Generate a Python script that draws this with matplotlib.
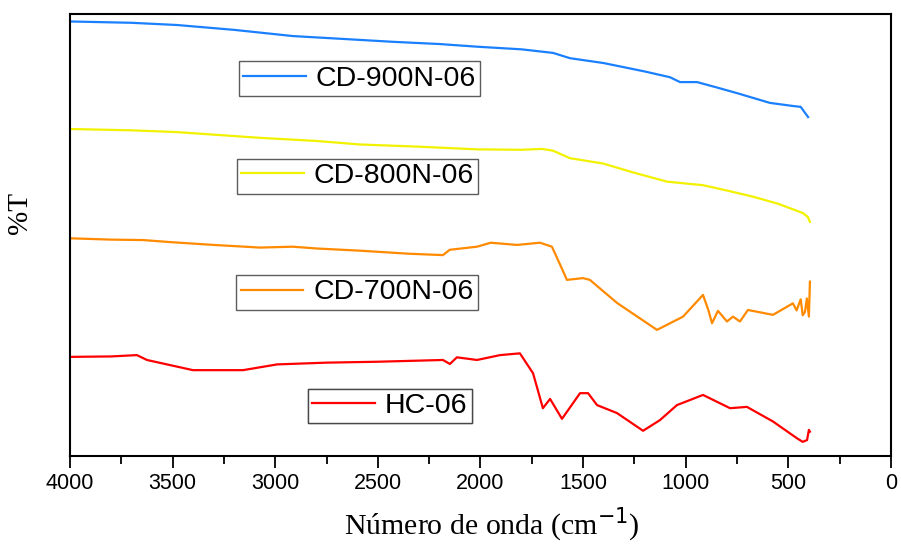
import matplotlib.pyplot as plt
from matplotlib.lines import Line2D
from matplotlib.ticker import MultipleLocator

# FTIR spectra, %T in arbitrary offset units (0-100 = axis height)
wn_900 = [4000, 3700, 3479, 3200, 2914, 2650, 2426, 2200, 2017, 1800, 1647, 1564, 1400, 1200,
          1077, 1028, 945, 850, 750, 590, 478, 440, 404]
t_900 = [98.2, 97.9, 97.4, 96.3, 94.9, 94.2, 93.6, 93.1, 92.5, 91.9, 91.1, 89.9, 88.8, 86.9,
         85.6, 84.5, 84.5, 83.3, 82.0, 79.8, 79.1, 78.9, 76.6]

wn_800 = [4000, 3700, 3479, 3074, 2800, 2587, 2300, 2017, 1800, 1700, 1647, 1564, 1403,
          1250, 1091, 916, 800, 672, 550, 429, 405, 395]
t_800 = [73.9, 73.6, 73.2, 71.9, 71.2, 70.4, 69.9, 69.3, 69.2, 69.4, 69.0, 67.3, 66.1,
         64.0, 62.0, 61.2, 60.0, 58.6, 57.0, 54.9, 54.0, 52.9]

wn_700 = [4000, 3800, 3644, 3500, 3300, 3074, 2914, 2800, 2587, 2344, 2183, 2150, 2017, 1950,
          1822, 1710, 1652, 1600, 1579, 1501, 1467, 1335, 1140, 1013, 916, 890, 872, 843, 799,
          770, 736, 697, 575, 478, 460, 440, 430, 419, 410, 400, 395]
t_700 = [49.2, 48.9, 48.8, 48.3, 47.7, 47.1, 47.3, 46.9, 46.4, 45.7, 45.4, 46.6, 47.3, 48.2,
         47.7, 48.2, 47.3, 42.0, 39.8, 40.2, 39.8, 34.6, 28.5, 31.5, 36.4, 33.0, 30.0, 32.8, 30.4,
         31.5, 30.4, 33.0, 31.9, 34.5, 32.9, 35.4, 31.8, 32.6, 35.6, 31.5, 39.4]

wn_hc = [4000, 3800, 3674, 3625, 3401, 3157, 2991, 2748, 2504, 2183, 2149, 2115, 2017, 1905,
         1808, 1744, 1696, 1661, 1603, 1515, 1476, 1432, 1335, 1208, 1126, 1043, 916, 784,
         702, 575, 458, 430, 409, 400, 395]
t_hc = [22.4, 22.5, 22.8, 21.7, 19.4, 19.4, 20.7, 21.1, 21.3, 21.7, 20.8, 22.3, 21.7, 22.8,
        23.2, 18.7, 10.8, 12.9, 8.4, 14.2, 14.2, 11.5, 9.7, 5.7, 8.1, 11.5, 13.8, 10.8,
        11.1, 7.8, 4.0, 3.2, 3.6, 5.9, 5.5]

labels = ['CD-900N-06', 'CD-800N-06', 'CD-700N-06', 'HC-06']
colors = ['#1A80FF', '#F2F200', '#FF8A00', '#FF0000']
# legend box centres (axes fraction)
box_pos = [(0.3526, 0.853), (0.350, 0.632), (0.3496, 0.3695), (0.3898, 0.113)]

fig = plt.figure(figsize=(9.01, 5.45), dpi=100)
ax = fig.add_axes([70 / 901, 1 - 456 / 545, 821 / 901, 442.5 / 545])

series = [(wn_900, t_900), (wn_800, t_800), (wn_700, t_700), (wn_hc, t_hc)]
for (wn, t), c in zip(series, colors):
    ax.plot(wn, t, color=c, lw=1.6)

ax.set_xlim(4000, 0)
ax.set_ylim(0, 100)
ax.xaxis.set_major_locator(MultipleLocator(500))
ax.xaxis.set_minor_locator(MultipleLocator(250))
ax.set_yticks([])
ax.tick_params(axis='x', which='major', length=8.5, width=1.3, direction='out',
               labelsize=15.5, pad=4)
ax.tick_params(axis='x', which='minor', length=5.5, width=1.3, direction='out')
for lbl in ax.get_xticklabels():
    lbl.set_family('Liberation Sans')
for s in ax.spines.values():
    s.set_linewidth(1.5)
    s.set_color('black')

plt.rcParams['mathtext.fontset'] = 'stix'
ax.set_xlabel('Número de onda (cm$^{-1}$)', family='Liberation Serif', fontsize=21.5)
ax.xaxis.set_label_coords(0.514, -0.112)
ax.set_ylabel('%T', family='Liberation Serif', fontsize=21)
ax.yaxis.set_label_coords(-0.045, 0.549)

for lab, c, pos in zip(labels, colors, box_pos):
    h = Line2D([], [], color=c, lw=1.6)
    leg = ax.legend([h], [lab], loc='center', bbox_to_anchor=pos, frameon=True,
                    fancybox=False, handlelength=2.2, handletextpad=0.35,
                    borderpad=0.15, borderaxespad=0,
                    prop={'family': 'Liberation Sans', 'size': 20.5})
    leg.get_frame().set_edgecolor('#333333')
    leg.get_frame().set_linewidth(1.0)
    ax.add_artist(leg)

fig.savefig('out.png', dpi=100)
